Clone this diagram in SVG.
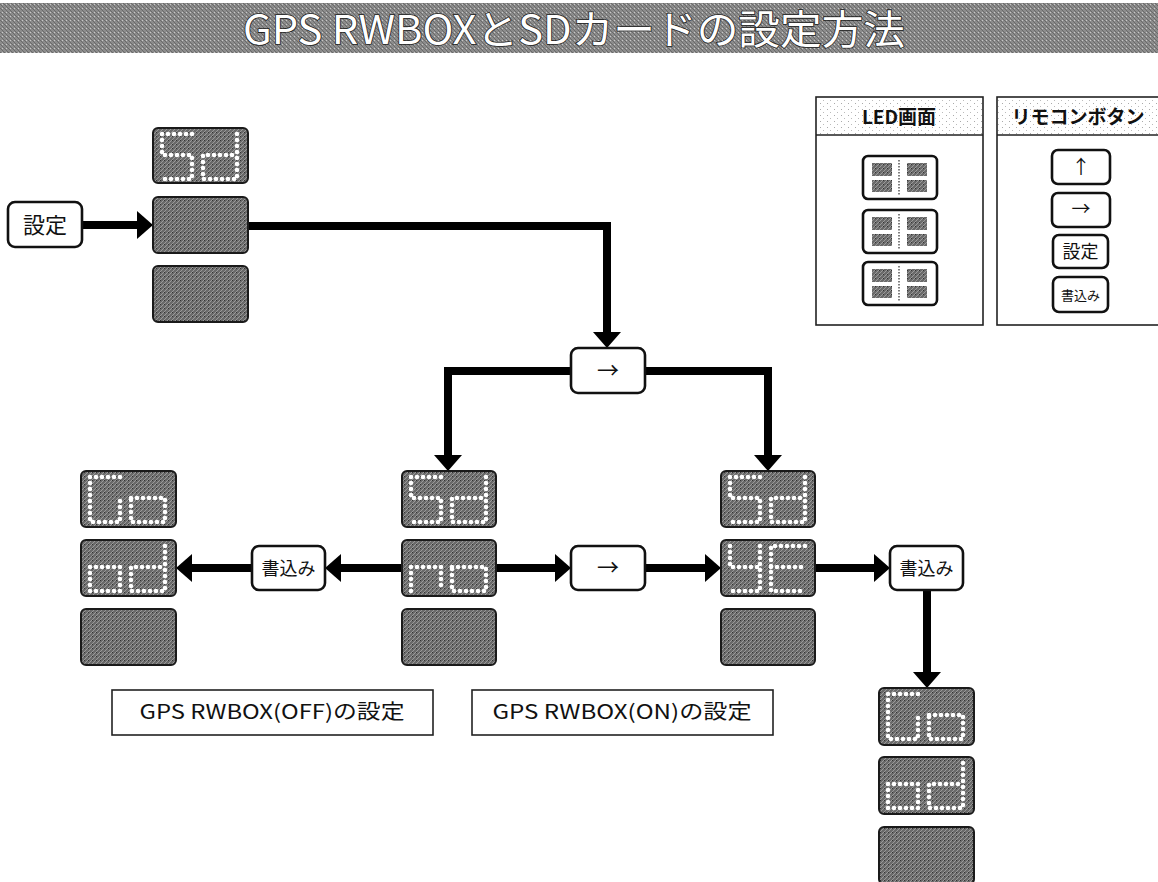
<svg xmlns="http://www.w3.org/2000/svg" xmlns:xlink="http://www.w3.org/1999/xlink" width="1158" height="882" viewBox="0 0 1158 882">
<style>
.lcd{fill:url(#lcdTex);stroke:#1a1a1a;stroke-width:2}
.seg{fill:none;stroke:#fff;stroke-width:4.6;stroke-dasharray:0 6;stroke-linecap:round;stroke-linejoin:round}
.btn{fill:#fff;stroke:#111;stroke-width:2.6}
.lbl{fill:#fff;stroke:#222;stroke-width:1.4}
.t{font-family:"Noto Sans CJK JP","Liberation Sans",sans-serif;fill:#111}
.conn{fill:none;stroke:#000;stroke-width:8;stroke-linejoin:miter}
.legend{fill:#fff;stroke:#222;stroke-width:1.6}
.mini{fill:#fff;stroke:#111;stroke-width:2.6}
.minisq{fill:url(#lcdTex)}
</style>
<defs>
<pattern id="lcdTex" width="4" height="4" patternUnits="userSpaceOnUse">
<rect width="4" height="4" fill="#6a6a6a"/>
<path d="M0,4 L4,0" stroke="#9a9a9a" stroke-width="1"/>
<rect x="0" y="0" width="1" height="1" fill="#333"/>
</pattern>
<pattern id="titleTex" width="4" height="4" patternUnits="userSpaceOnUse">
<rect width="4" height="4" fill="#8c8c8c"/>
<path d="M0,0 L4,4" stroke="#6a6a6a" stroke-width="1"/>
<rect x="2" y="0" width="1" height="1" fill="#c8c8c8"/>
</pattern>
<pattern id="stip" width="7" height="6" patternUnits="userSpaceOnUse">
<rect width="7" height="6" fill="#fff"/>
<rect x="1" y="1" width="1" height="1" fill="#aaa"/>
<rect x="4" y="4" width="1" height="1" fill="#bbb"/>
</pattern>
<marker id="ah" markerUnits="userSpaceOnUse" markerWidth="16" markerHeight="28" viewBox="0 0 16 28" refX="0" refY="14" orient="auto">
<path d="M0,0 L16,14 L0,28 Z" fill="#000"/>
</marker>
<g id="gSd"><path class="seg" d="M39,6 H9 V27 H39 V51 H9"/><path class="seg" d="M84,6 V51 H50 V27 H84"/></g>
<g id="gGo"><path class="seg" d="M39,6 H9 V51 H39 V29"/><path class="seg" d="M50,27 H84 V51 H50 Z"/></g>
<g id="god"><path class="seg" d="M9,27 H39 V51 H9 Z"/><path class="seg" d="M84,6 V51 H50 V27 H84"/></g>
<g id="gno"><path class="seg" d="M9,51 V27 H39 V51"/><path class="seg" d="M50,27 H84 V51 H50 Z"/></g>
<g id="gyE"><path class="seg" d="M9,6 V27 H39 M39,6 V51 H9"/><path class="seg" d="M84,6 H50 V51 H84 M50,27 H84"/></g>
<g id="miniLed"><rect class="mini" x="0" y="0" width="74" height="43" rx="5"/><rect class="minisq" x="9" y="7" width="20" height="13"/><rect class="minisq" x="9" y="24" width="20" height="12"/><rect class="minisq" x="44" y="7" width="20" height="13"/><rect class="minisq" x="44" y="24" width="20" height="12"/><path d="M36,4 V40" stroke="#555" stroke-width="1.5" stroke-dasharray="1.5 1.5"/></g>
</defs>

<g id="title">
<rect x="0" y="3" width="1158" height="50" fill="url(#titleTex)"/>
<text x="574" y="44" text-anchor="middle" font-size="40" textLength="662" lengthAdjust="spacingAndGlyphs" font-family="Noto Sans CJK JP, Liberation Sans, sans-serif" fill="#fff" stroke="#222" stroke-width="1.6" paint-order="stroke">GPS RWBOXとSDカードの設定方法</text>
</g>

<g id="connectors">
<path class="conn" marker-end="url(#ah)" d="M82,225 H137"/>
<path class="conn" marker-end="url(#ah)" d="M248,226 H607 V332"/>
<path class="conn" marker-end="url(#ah)" d="M571,371 H448 V455"/>
<path class="conn" marker-end="url(#ah)" d="M645,371 H768 V455"/>
<path class="conn" marker-end="url(#ah)" d="M402,568 H341"/>
<path class="conn" marker-end="url(#ah)" d="M252,568 H192"/>
<path class="conn" marker-end="url(#ah)" d="M496,568 H555"/>
<path class="conn" marker-end="url(#ah)" d="M645,568 H705"/>
<path class="conn" marker-end="url(#ah)" d="M815,568 H874"/>
<path class="conn" marker-end="url(#ah)" d="M927,590 V672"/>
</g>

<g id="btn-settei">
<rect class="btn" x="8" y="202" width="74" height="45" rx="7"/>
<text class="t" x="45" y="233" text-anchor="middle" font-size="22">設定</text>
</g>

<g id="led-top">
<rect class="lcd" x="153" y="128" width="95" height="55" rx="5"/>
<use href="#gSd" x="153" y="128"/>
<rect class="lcd" x="153" y="197" width="95" height="56" rx="5"/>
<rect class="lcd" x="153" y="266" width="95" height="56" rx="5"/>
</g>

<g id="btn-right-top">
<rect class="btn" x="571" y="348" width="74" height="45" rx="7"/>
<text class="t" x="608" y="378" text-anchor="middle" font-size="22">→</text>
</g>

<g id="led-left">
<rect class="lcd" x="81" y="471" width="95" height="56" rx="5"/>
<use href="#gGo" x="81" y="471"/>
<rect class="lcd" x="81" y="540" width="95" height="56" rx="5"/>
<use href="#god" x="81" y="540"/>
<rect class="lcd" x="81" y="609" width="95" height="56" rx="5"/>
</g>

<g id="btn-write-left">
<rect class="btn" x="252" y="546" width="73" height="44" rx="7"/>
<text class="t" x="288.5" y="575" text-anchor="middle" font-size="18">書込み</text>
</g>

<g id="led-mid">
<rect class="lcd" x="402" y="471" width="94" height="56" rx="5"/>
<use href="#gSd" x="402" y="471"/>
<rect class="lcd" x="402" y="540" width="94" height="56" rx="5"/>
<use href="#gno" x="402" y="540"/>
<rect class="lcd" x="402" y="609" width="94" height="56" rx="5"/>
</g>

<g id="btn-right-mid">
<rect class="btn" x="571" y="546" width="74" height="44" rx="7"/>
<text class="t" x="608" y="575" text-anchor="middle" font-size="22">→</text>
</g>

<g id="led-right">
<rect class="lcd" x="721" y="471" width="94" height="56" rx="5"/>
<use href="#gSd" x="721" y="471"/>
<rect class="lcd" x="721" y="540" width="94" height="56" rx="5"/>
<use href="#gyE" x="721" y="540"/>
<rect class="lcd" x="721" y="609" width="94" height="56" rx="5"/>
</g>

<g id="btn-write-right">
<rect class="btn" x="890" y="546" width="73" height="44" rx="7"/>
<text class="t" x="926.5" y="575" text-anchor="middle" font-size="18">書込み</text>
</g>

<g id="led-bottom">
<rect class="lcd" x="879" y="688" width="95" height="57" rx="5"/>
<use href="#gGo" x="879" y="688"/>
<rect class="lcd" x="879" y="757" width="95" height="57" rx="5"/>
<use href="#god" x="879" y="757"/>
<rect class="lcd" x="879" y="827" width="95" height="57" rx="5"/>
</g>

<g id="label-off">
<rect class="legend" x="112" y="690" width="321" height="45"/>
<text class="t" x="272" y="719" text-anchor="middle" font-size="20" textLength="265" lengthAdjust="spacingAndGlyphs">GPS RWBOX(OFF)の設定</text>
</g>
<g id="label-on">
<rect class="legend" x="472" y="690" width="301" height="45"/>
<text class="t" x="622" y="719" text-anchor="middle" font-size="20" textLength="259" lengthAdjust="spacingAndGlyphs">GPS RWBOX(ON)の設定</text>
</g>

<g id="legend-led">
<rect class="legend" x="816" y="97" width="167" height="228"/>
<rect x="817" y="98" width="165" height="37" fill="url(#stip)"/>
<path d="M816,135 H983" stroke="#222" stroke-width="1.6"/>
<text class="t" x="899" y="124" text-anchor="middle" font-size="19" font-weight="bold">LED画面</text>
<use href="#miniLed" x="863" y="156"/>
<use href="#miniLed" x="863" y="210"/>
<use href="#miniLed" x="863" y="262"/>
</g>

<g id="legend-remote">
<rect class="legend" x="997" y="97" width="170" height="228"/>
<rect x="998" y="98" width="168" height="37" fill="url(#stip)"/>
<path d="M997,135 H1167" stroke="#222" stroke-width="1.6"/>
<text class="t" x="1078" y="124" text-anchor="middle" font-size="19" font-weight="bold">リモコンボタン</text>
<rect class="btn" x="1052" y="150" width="58" height="34" rx="6"/>
<text class="t" x="1081" y="174" text-anchor="middle" font-size="19">↑</text>
<rect class="btn" x="1052" y="193" width="58" height="34" rx="6"/>
<text class="t" x="1081" y="216" text-anchor="middle" font-size="19">→</text>
<rect class="btn" x="1053" y="235" width="55" height="33" rx="6"/>
<text class="t" x="1080.5" y="258" text-anchor="middle" font-size="18">設定</text>
<rect class="btn" x="1053" y="277" width="55" height="35" rx="6"/>
<text class="t" x="1080.5" y="300" text-anchor="middle" font-size="13">書込み</text>
</g>
</svg>
